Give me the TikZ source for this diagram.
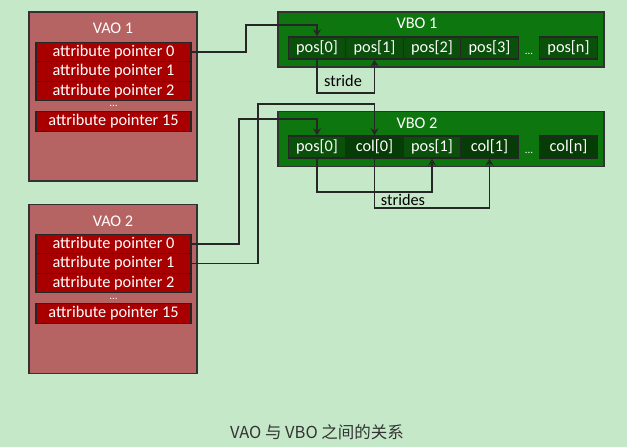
\documentclass[tikz,border=0pt]{standalone}
\usepackage{fontspec}
\setmainfont{Carlito}
\newfontfamily\cjkfont{Noto Sans CJK SC}
\usetikzlibrary{arrows.meta}
\definecolor{bgcol}{RGB}{197,232,201}
\definecolor{vaocol}{RGB}{181,99,99}
\definecolor{attrcol}{RGB}{168,0,0}
\definecolor{vbocol}{RGB}{14,118,14}
\definecolor{poscol}{RGB}{10,80,10}
\definecolor{colcol}{RGB}{6,60,6}
\definecolor{edgecol}{RGB}{50,50,50}
\tikzset{
  vao/.style={draw=edgecol,fill=vaocol,line width=1.4pt,minimum width=168pt,minimum height=169pt,inner sep=0pt},
  attr/.style={draw=black!85,fill=attrcol,text=white,line width=1.4pt,minimum width=155pt,minimum height=19.5pt,inner sep=0pt},
  vbo/.style={draw=edgecol,fill=vbocol,line width=1.4pt,minimum width=326pt,minimum height=55pt,inner sep=0pt},
  cell/.style={draw=black!85,fill=poscol,text=white,line width=1.4pt,minimum width=57.5pt,minimum height=22pt,inner sep=0pt},
  colcell/.style={cell,fill=colcol},
  title/.style={text=white},
  dots/.style={text=white,inner sep=0pt,font=\fontsize{11pt}{12pt}\selectfont},
  link/.style={line width=1.7pt,draw=black!85,-{Stealth[length=7pt,width=8pt]}}
}
\begin{document}
\begin{tikzpicture}[x=1pt,y=-1pt,font=\fontsize{16.3pt}{18pt}\selectfont]
\fill[bgcol] (0,0) rectangle (627,447);
\useasboundingbox (0,0) rectangle (627,447);
\node[vao] (vao1) at (113,96.5) {};
\node[title] (vao1t) at (113,28) {VAO 1};
\node[attr] (a10) at (113.5,52) {attribute pointer 0};
\node[attr] (a11) at (113.5,71.5) {attribute pointer 1};
\node[attr] (a12) at (113.5,91) {attribute pointer 2};
\node[dots] (a1d) at (113.5,106) {...};
\node[attr] (a115) at (113.5,121.5) {attribute pointer 15};
\node[vao] (vao2) at (113,289) {};
\node[title] (vao2t) at (113,221) {VAO 2};
\node[attr] (a20) at (113.5,244) {attribute pointer 0};
\node[attr] (a21) at (113.5,263.5) {attribute pointer 1};
\node[attr] (a22) at (113.5,283) {attribute pointer 2};
\node[dots] (a2d) at (113.5,298.5) {...};
\node[attr] (a215) at (113.5,313.5) {attribute pointer 15};
\node[vbo] (vbo1) at (441,39.5) {};
\node[title] (vbo1t) at (417,23) {VBO 1};
\node[cell] (p10) at (317,48) {pos[0]};
\node[cell] (p11) at (374.5,48) {pos[1]};
\node[cell] (p12) at (432,48) {pos[2]};
\node[cell] (p13) at (489.5,48) {pos[3]};
\node[dots] (p1d) at (529,54) {...};
\node[cell] (p1n) at (568.5,48) {pos[n]};
\node[vbo] (vbo2) at (441,139) {};
\node[title] (vbo2t) at (417,123) {VBO 2};
\node[cell] (q0) at (317,147) {pos[0]};
\node[colcell] (q1) at (374.5,147) {col[0]};
\node[cell] (q2) at (432,147) {pos[1]};
\node[colcell] (q3) at (489.5,147) {col[1]};
\node[dots] (q4) at (529,153) {...};
\node[colcell] (qn) at (568.5,147) {col[n]};
\coordinate (k1) at (246,25);
\coordinate (k2) at (239,119);
\coordinate (k3) at (258,104);
\coordinate (s1) at (345,93);
\coordinate (s2) at (375,192);
\coordinate (s3) at (430,208);
\draw[link] (a10.east) -| (k1) -| (p10.north);
\draw[link] (p10.south) |- (s1) -| (p11.south);
\node (stride) at (343,81) {stride};
\draw[link] (a20.east) -| (k2) -| (q0.north);
\draw[link] (a21.east) -| (k3) -| (q1.north);
\draw[link] (q0.south) |- (s2) -| (q2.south);
\draw[link] (q1.south) |- (s3) -| (q3.south);
\node (strides) at (403,199.5) {strides};
\node[text=black!80] (caption) at (317,432) {\cjkfont\fontsize{16.5pt}{18pt}\selectfont VAO 与 VBO 之间的关系};
\end{tikzpicture}
\end{document}
